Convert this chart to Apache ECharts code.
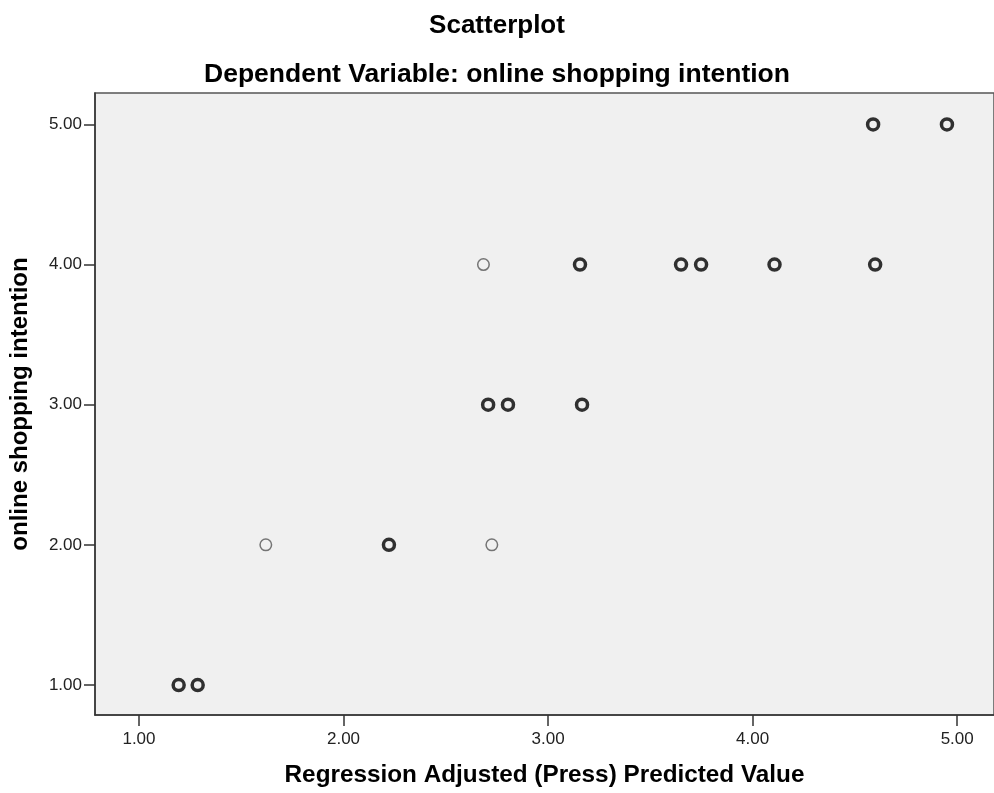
<!DOCTYPE html>
<html>
<head>
<meta charset="utf-8">
<title>Scatterplot</title>
<script src="https://cdn.jsdelivr.net/npm/echarts@6/dist/echarts.min.js"></script>
<style>
	html, body { margin: 0; padding: 0; background: #fff; }
	#chart { width: 994px; height: 793px; }
</style>
</head>
<body>
<div id="chart"></div>
<script>
// tick values on both axes
const xTicks = [1, 2, 3, 4, 5];
const yTicks = [1, 2, 3, 4, 5];

// cases drawn once (thin grey rings)
const singleX = [2.684, 1.620, 2.725];
const singleY = [4, 2, 2];

// cases that sit on top of each other (heavy black rings)
const stackedX = [1.194, 1.287, 2.222, 2.707, 2.804, 3.166, 3.156, 3.650, 3.748, 4.107, 4.599, 4.589, 4.950];
const stackedY = [1, 1, 2, 3, 3, 3, 4, 4, 4, 4, 4, 5, 5];

const pairs = (xs, ys) => xs.map((x, i) => [x, ys[i]]);

const font = 'Liberation Sans, Arial, sans-serif';
const chart = echarts.init(document.getElementById('chart'));

const option = {
	backgroundColor: '#ffffff',
	animation: false,
	title: [
		{
			text: 'Scatterplot',
			left: 'center',
			top: 8,
			textStyle: { fontFamily: font, fontSize: 26, fontWeight: 'bold', color: '#000' },
		},
		{
			text: 'Dependent Variable: online shopping intention',
			left: 'center',
			top: 56,
			textStyle: { fontFamily: font, fontSize: 26.5, fontWeight: 'bold', color: '#000' },
		},
	],
	grid: {
		left: 95,
		right: 0,
		top: 93,
		bottom: 78,
		containLabel: false,
		outerBoundsMode: 'none',
		show: true,
		backgroundColor: '#f0f0f0',
		borderColor: '#555',
		borderWidth: 1.5,
	},
	xAxis: {
		type: 'value',
		min: 0.785,
		max: 5.18,
		name: 'Regression Adjusted (Press) Predicted Value',
		nameLocation: 'middle',
		nameGap: 48,
		nameTextStyle: { fontFamily: font, fontSize: 24.3, fontWeight: 'bold', color: '#000' },
		splitLine: { show: false },
		axisLine: { show: true, lineStyle: { color: '#333', width: 1.5 } },
		axisTick: {
			show: true,
			length: 11,
			customValues: xTicks,
			lineStyle: { color: '#333', width: 1.5 },
		},
		axisLabel: {
			customValues: xTicks,
			margin: 16,
			fontFamily: font,
			fontSize: 17,
			color: '#222',
			formatter: (v) => v.toFixed(2),
		},
	},
	yAxis: {
		type: 'value',
		min: 0.786,
		max: 5.224,
		name: 'online shopping intention',
		nameLocation: 'middle',
		nameGap: 63,
		nameTextStyle: { fontFamily: font, fontSize: 24, fontWeight: 'bold', color: '#000' },
		splitLine: { show: false },
		axisLine: { show: true, lineStyle: { color: '#333', width: 1.5 } },
		axisTick: {
			show: true,
			length: 11,
			customValues: yTicks,
			lineStyle: { color: '#333', width: 1.5 },
		},
		axisLabel: {
			customValues: yTicks,
			margin: 13,
			fontFamily: font,
			fontSize: 17,
			color: '#222',
			formatter: (v) => v.toFixed(2),
		},
	},
	series: [
		{
			name: 'single',
			type: 'scatter',
			symbol: 'circle',
			symbolSize: 11.5,
			data: pairs(singleX, singleY),
			itemStyle: { color: 'rgba(0,0,0,0)', borderColor: '#555', borderWidth: 1.5 },
		},
		{
			name: 'stacked',
			type: 'scatter',
			symbol: 'circle',
			symbolSize: 11,
			data: pairs(stackedX, stackedY),
			itemStyle: { color: 'rgba(0,0,0,0)', borderColor: '#000', borderWidth: 3.5 },
		},
	],
};

option && chart.setOption(option);
</script>
</body>
</html>
